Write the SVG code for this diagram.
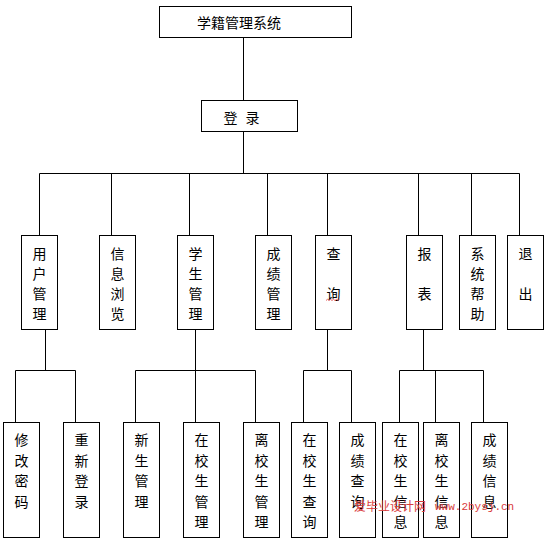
<svg xmlns="http://www.w3.org/2000/svg" width="547" height="544" viewBox="0 0 547 544">
<style>
rect.n{fill:#fff;stroke:#000;stroke-width:1}
.c path{fill:none;stroke:#000;stroke-width:1}
text{font-family:"Noto Sans CJK SC","Noto Sans",sans-serif;font-size:14px;fill:#000}
text.v{text-anchor:middle}
.wm{font-size:12px;fill:#d93a3a}
.wm2{font-family:"Liberation Mono",monospace;font-size:11px;fill:#d93a3a}
</style>
<rect width="547" height="544" fill="#fff"/>
<g class="c" id="connectors">
<path d="M243.5 37.5V100.5M243.5 131.5V173.5M39.5 173.5H519.5"/>
<path d="M39.5 173.5V235.5M111.5 173.5V235.5M189.5 173.5V235.5M267.5 173.5V235.5M327.5 173.5V235.5M418.5 173.5V235.5M471.5 173.5V235.5M519.5 173.5V235.5"/>
<path d="M45.5 329.5V370.5M15.5 370.5H75.5M15.5 370.5V422.5M75.5 370.5V422.5"/>
<path d="M195.5 329.5V422.5M135.5 370.5H255.5M135.5 370.5V422.5M255.5 370.5V422.5"/>
<path d="M327.5 329.5V370.5M303.5 370.5H351.5M303.5 370.5V422.5M351.5 370.5V422.5"/>
<path d="M423.5 329.5V370.5M399.5 370.5H483.5M399.5 370.5V422.5M435.5 370.5V422.5M483.5 370.5V422.5"/>
</g>
<g id="n-root"><rect class="n" x="159.5" y="6.5" width="192" height="31"/><text x="197" y="28.3">学籍管理系统</text></g>
<g id="n-login"><rect class="n" x="201.5" y="100.5" width="96" height="31"/><text x="223.5" y="123.3">登</text><text x="245.5" y="123.3">录</text></g>
<g id="n-user"><rect class="n" x="21.5" y="235.5" width="36" height="94"/><text class="v" x="39.5" y="259"><tspan x="39.5">用</tspan><tspan x="39.5" dy="20">户</tspan><tspan x="39.5" dy="20">管</tspan><tspan x="39.5" dy="20">理</tspan></text></g>
<g id="n-browse"><rect class="n" x="99.5" y="235.5" width="36" height="94"/><text class="v" x="117.5" y="259"><tspan x="117.5">信</tspan><tspan x="117.5" dy="20">息</tspan><tspan x="117.5" dy="20">浏</tspan><tspan x="117.5" dy="20">览</tspan></text></g>
<g id="n-student"><rect class="n" x="177.5" y="235.5" width="36" height="94"/><text class="v" x="195.5" y="259"><tspan x="195.5">学</tspan><tspan x="195.5" dy="20">生</tspan><tspan x="195.5" dy="20">管</tspan><tspan x="195.5" dy="20">理</tspan></text></g>
<g id="n-grade"><rect class="n" x="255.5" y="235.5" width="36" height="94"/><text class="v" x="273.5" y="259"><tspan x="273.5">成</tspan><tspan x="273.5" dy="20">绩</tspan><tspan x="273.5" dy="20">管</tspan><tspan x="273.5" dy="20">理</tspan></text></g>
<g id="n-query"><rect class="n" x="315.5" y="235.5" width="36" height="94"/><text class="v" x="333.5" y="259"><tspan x="333.5">查</tspan><tspan x="333.5" dy="40">询</tspan></text><path d="M326 300.5l1.5-1.2 1.5 1.2 1.5-1.2 1.5 1.2 1.5-1.2 1.5 1.2 1.5-1.2 1.5 1.2 1.5-1.2" fill="none" stroke="#e04040" stroke-width="0.8"/></g>
<g id="n-report"><rect class="n" x="406.5" y="235.5" width="36" height="94"/><text class="v" x="424.5" y="259"><tspan x="424.5">报</tspan><tspan x="424.5" dy="40">表</tspan></text></g>
<g id="n-help"><rect class="n" x="459.5" y="235.5" width="36" height="94"/><text class="v" x="477.5" y="259"><tspan x="477.5">系</tspan><tspan x="477.5" dy="20">统</tspan><tspan x="477.5" dy="20">帮</tspan><tspan x="477.5" dy="20">助</tspan></text></g>
<g id="n-exit"><rect class="n" x="507.5" y="235.5" width="36" height="94"/><text class="v" x="525.5" y="259"><tspan x="525.5">退</tspan><tspan x="525.5" dy="40">出</tspan></text></g>
<g id="n-pwd"><rect class="n" x="3.5" y="422.5" width="36" height="115"/><text class="v" y="445.3"><tspan x="21.5">修</tspan><tspan x="21.5" dy="20.5">改</tspan><tspan x="21.5" dy="20.5">密</tspan><tspan x="21.5" dy="20.5">码</tspan></text></g>
<g id="n-relogin"><rect class="n" x="63.5" y="422.5" width="36" height="115"/><text class="v" y="445.3"><tspan x="81.5">重</tspan><tspan x="81.5" dy="20.5">新</tspan><tspan x="81.5" dy="20.5">登</tspan><tspan x="81.5" dy="20.5">录</tspan></text></g>
<g id="n-new"><rect class="n" x="123.5" y="422.5" width="36" height="115"/><text class="v" y="445.3"><tspan x="141.5">新</tspan><tspan x="141.5" dy="20.5">生</tspan><tspan x="141.5" dy="20.5">管</tspan><tspan x="141.5" dy="20.5">理</tspan></text></g>
<g id="n-cur"><rect class="n" x="183.5" y="422.5" width="36" height="115"/><text class="v" y="445.3"><tspan x="201.5">在</tspan><tspan x="201.5" dy="20.5">校</tspan><tspan x="201.5" dy="20.5">生</tspan><tspan x="201.5" dy="20.5">管</tspan><tspan x="201.5" dy="20.5">理</tspan></text></g>
<g id="n-left"><rect class="n" x="243.5" y="422.5" width="36" height="115"/><text class="v" y="445.3"><tspan x="261.5">离</tspan><tspan x="261.5" dy="20.5">校</tspan><tspan x="261.5" dy="20.5">生</tspan><tspan x="261.5" dy="20.5">管</tspan><tspan x="261.5" dy="20.5">理</tspan></text></g>
<g id="n-qcur"><rect class="n" x="291.5" y="422.5" width="36" height="115"/><text class="v" y="445.3"><tspan x="309.5">在</tspan><tspan x="309.5" dy="20.5">校</tspan><tspan x="309.5" dy="20.5">生</tspan><tspan x="309.5" dy="20.5">查</tspan><tspan x="309.5" dy="20.5">询</tspan></text></g>
<g id="n-qgrade"><rect class="n" x="339.5" y="422.5" width="36" height="115"/><text class="v" y="445.3"><tspan x="357.5">成</tspan><tspan x="357.5" dy="20.5">绩</tspan><tspan x="357.5" dy="20.5">查</tspan><tspan x="357.5" dy="20.5">询</tspan></text></g>
<g id="n-rcur"><rect class="n" x="382.5" y="422.5" width="36" height="115"/><text class="v" y="445.3"><tspan x="400.5">在</tspan><tspan x="400.5" dy="20.5">校</tspan><tspan x="400.5" dy="20.5">生</tspan><tspan x="400.5" dy="20.5">信</tspan><tspan x="400.5" dy="20.5">息</tspan></text></g>
<g id="n-rleft"><rect class="n" x="423.5" y="422.5" width="36" height="115"/><text class="v" y="445.3"><tspan x="441.5">离</tspan><tspan x="441.5" dy="20.5">校</tspan><tspan x="441.5" dy="20.5">生</tspan><tspan x="441.5" dy="20.5">信</tspan><tspan x="441.5" dy="20.5">息</tspan></text></g>
<g id="n-rgrade"><rect class="n" x="471.5" y="422.5" width="36" height="115"/><text class="v" y="445.3"><tspan x="489.5">成</tspan><tspan x="489.5" dy="20.5">绩</tspan><tspan x="489.5" dy="20.5">信</tspan><tspan x="489.5" dy="20.5">息</tspan></text></g>
<g id="watermark"><text class="wm" x="354" y="511">爱毕业设计网</text><text class="wm2" x="435" y="510">www.2bysj.cn</text></g>
</svg>
